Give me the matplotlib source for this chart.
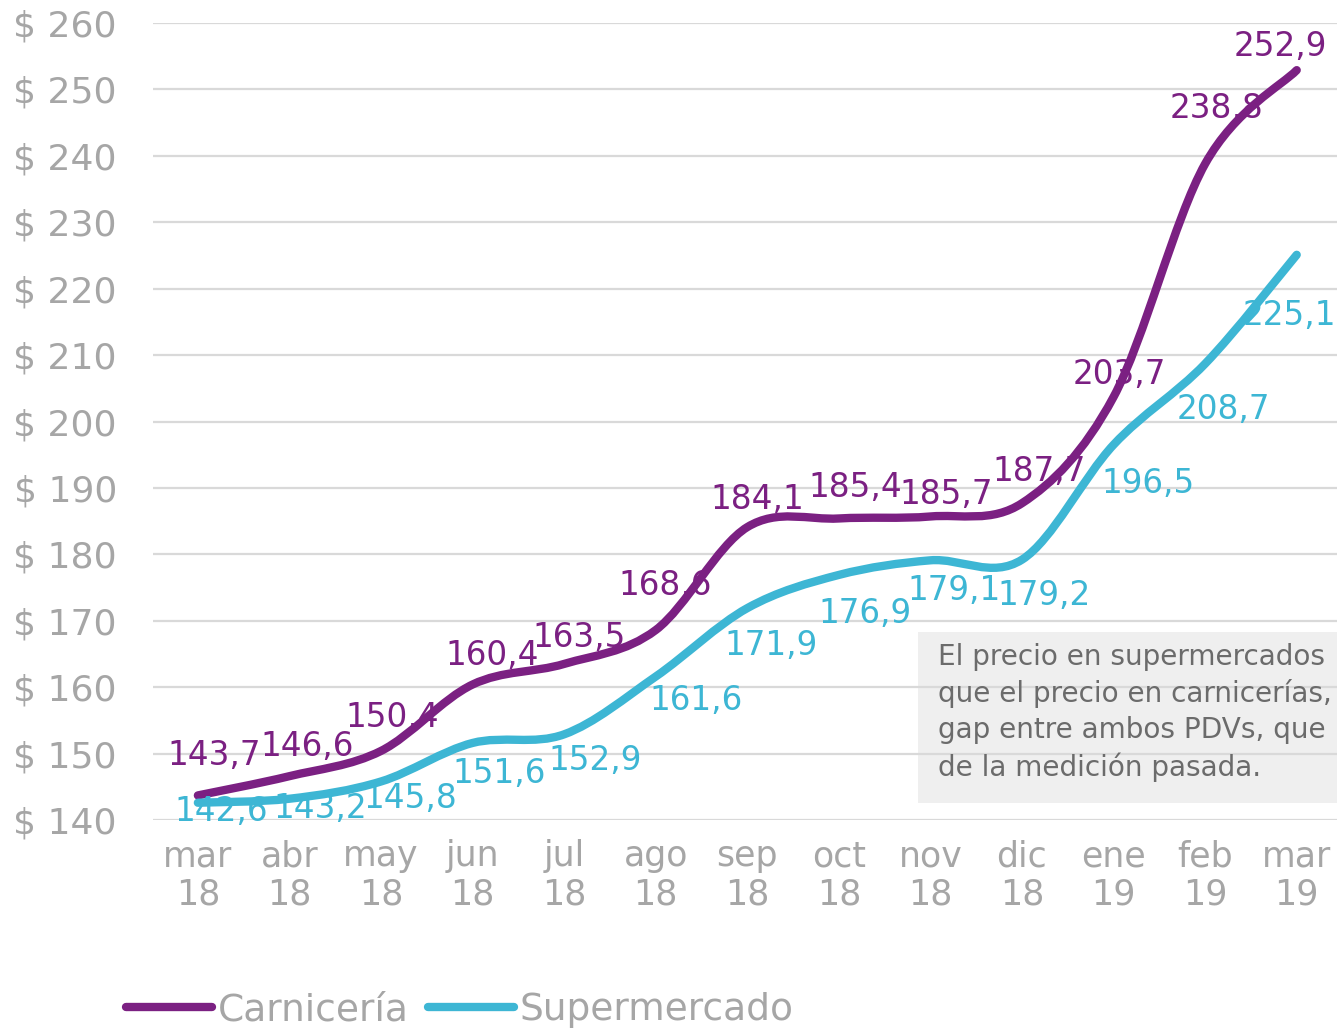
import numpy as np
import matplotlib.pyplot as plt
from matplotlib.path import Path
from matplotlib.patches import PathPatch, Rectangle
from matplotlib.lines import Line2D

# data
months = ["mar\n18", "abr\n18", "may\n18", "jun\n18", "jul\n18", "ago\n18", "sep\n18",
          "oct\n18", "nov\n18", "dic\n18", "ene\n19", "feb\n19", "mar\n19"]
carniceria = [143.7, 146.6, 150.4, 160.4, 163.5, 168.6, 184.1, 185.4, 185.7, 187.7, 203.7, 238.8, 252.9]
supermercado = [142.6, 143.2, 145.8, 151.6, 152.9, 161.6, 171.9, 176.9, 179.1, 179.2, 196.5, 208.7, 225.1]
y_ticks = list(range(140, 261, 10))

# label offsets (points) from each data point
carn_dx = [12, 13, 8, 14, 11, 7, 7, 12, 11, 12, 4, 8, -12]
carn_dy = [29, 21, 24, 21, 19, 32, 20, 22, 16, 23, 16, 40, 17]
sup_dx = [17, 22, 21, 19, 22, 29, 17, 19, 17, 16, 25, 13, -5]
sup_dy = [-6, -7, -12, -22, -19, -17, -27, -28, -22, -26, -28, -33, -44]

PURPLE = "#7B2082"
CYAN = "#3DB6D4"
GRAY = "#A6A6A6"


def smooth_path(xs, ys):
    # excel-style smoothed line: bezier segments through each point
    pts = np.column_stack([xs, ys]).astype(float)
    n = len(pts)
    verts = [pts[0]]
    codes = [Path.MOVETO]
    for i in range(n - 1):
        p0 = pts[i - 1] if i > 0 else pts[i]
        p1 = pts[i]
        p2 = pts[i + 1]
        p3 = pts[i + 2] if i + 2 < n else pts[i + 1]
        c1 = p1 + (p2 - p0) / 6
        c2 = p2 - (p3 - p1) / 6
        verts += [c1, c2, p2]
        codes += [Path.CURVE4] * 3
    return Path(verts, codes)


fig = plt.figure(figsize=(13.37, 10.28), dpi=100)
ax = fig.add_axes([153 / 1337, 1 - 820 / 1028, 1 - 153 / 1337, (820 - 23) / 1028])

x = np.arange(len(months))

# comment box behind the lines
ax.add_patch(Rectangle((918 / 1337, 1 - 803 / 1028), 0.32, 171 / 1028,
                       transform=fig.transFigure, facecolor="#EFEFEF",
                       edgecolor="none", zorder=0.2, clip_on=False))

for vals, col in [(carniceria, PURPLE), (supermercado, CYAN)]:
    ax.add_patch(PathPatch(smooth_path(x, vals), facecolor="none", edgecolor=col,
                           lw=6, capstyle="round", joinstyle="round", zorder=3))

for i in range(len(x)):
    ax.annotate(f"{carniceria[i]:.1f}".replace(".", ","), (x[i], carniceria[i]),
                xytext=(carn_dx[i], carn_dy[i]), textcoords="offset points",
                ha="center", va="center", fontsize=23.5, color=PURPLE, zorder=4)
    ax.annotate(f"{supermercado[i]:.1f}".replace(".", ","), (x[i], supermercado[i]),
                xytext=(sup_dx[i], sup_dy[i]), textcoords="offset points",
                ha="center", va="center", fontsize=23.5, color=CYAN, zorder=4)

ax.set_xlim(-0.49, 12.44)
ax.set_ylim(140, 260)
ax.set_yticks(y_ticks)
ax.set_yticklabels([f"$ {v}" for v in y_ticks])
ax.set_xticks(x)
ax.set_xticklabels(months, linespacing=1.15)
ax.tick_params(axis="y", length=0, pad=26, labelsize=26, labelcolor=GRAY)
ax.tick_params(axis="x", length=0, pad=14, labelsize=25, labelcolor=GRAY)
ax.grid(axis="y", color="#D9D9D9", lw=1.6, zorder=1)
ax.set_axisbelow(False)
for s in ax.spines.values():
    s.set_visible(False)
ax.patch.set_alpha(0)

fig.text(938 / 1337, 1 - 643 / 1028,
         "El precio en supermercados\nque el precio en carnicerías,\n"
         "gap entre ambos PDVs, que\nde la medición pasada.",
         ha="left", va="top", fontsize=20.1, color="#6B6B6B", linespacing=1.36)

handles = [Line2D([], [], color=PURPLE, lw=6, solid_capstyle="round"),
           Line2D([], [], color=CYAN, lw=6, solid_capstyle="round")]
fig.legend(handles, ["Carnicería", "Supermercado"], loc="center",
           bbox_to_anchor=(0.344, 0.0175), ncol=2, frameon=False,
           fontsize=27, labelcolor=GRAY, handlelength=2.3, handletextpad=0.15,
           columnspacing=0.5)

fig.savefig("out.png", dpi=100)
